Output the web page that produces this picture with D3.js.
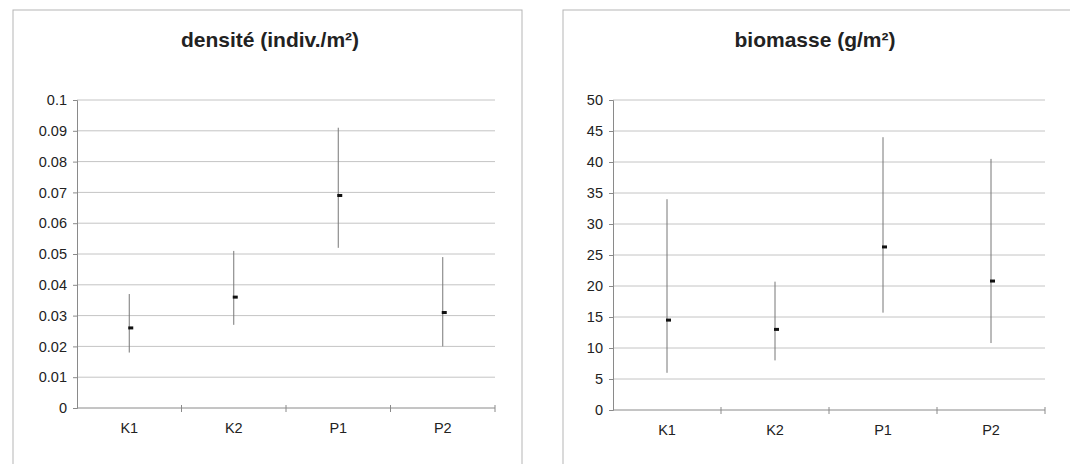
<!DOCTYPE html>
<html>
<head>
<meta charset="utf-8">
<script src="https://cdn.jsdelivr.net/npm/d3@7"></script>
<style>
  body { margin: 0; background: #fff; }
  svg { display: block; font-family: "Liberation Sans", Arial, sans-serif; }
  .grid line { stroke: #c4c4c4; stroke-width: 1; }
  .axis path, .axis line { stroke: #8a8a8a; }
  .axis text { fill: #222; font-size: 14.5px; }
</style>
</head>
<body>
<script>
// stations
var categories = ['K1', 'K2', 'P1', 'P2'];

// densite (indiv./m2)
var densMean = [0.026, 0.036, 0.069, 0.031];
var densLow  = [0.018, 0.027, 0.052, 0.020];
var densHigh = [0.037, 0.051, 0.091, 0.049];
var densTicks = [0, 0.01, 0.02, 0.03, 0.04, 0.05, 0.06, 0.07, 0.08, 0.09, 0.1];

// biomasse (g/m2)
var bioMean = [14.5, 13.0, 26.3, 20.8];
var bioLow  = [6.0, 8.0, 15.7, 10.8];
var bioHigh = [34.0, 20.7, 44.0, 40.5];
var bioTicks = [0, 5, 10, 15, 20, 25, 30, 35, 40, 45, 50];

var svg = d3.select('body').append('svg')
	.attr('width', 1070)
	.attr('height', 464);

function drawPanel(opt) {
	var g = svg.append('g');

	// cadre du graphique
	g.append('rect')
		.attr('x', opt.box[0]).attr('y', opt.box[1])
		.attr('width', opt.box[2]).attr('height', opt.box[3])
		.attr('fill', '#fff')
		.attr('stroke', '#b5b5b5');

	g.append('text')
		.attr('x', opt.titleX).attr('y', 47)
		.attr('text-anchor', 'middle')
		.style('font-size', '21px')
		.style('font-weight', 'bold')
		.attr('fill', '#222')
		.text(opt.title);

	var x = d3.scaleBand()
		.domain(categories)
		.range([opt.left, opt.right]);

	var y = d3.scaleLinear()
		.domain([0, d3.max(opt.ticks)])
		.range([opt.bottom, opt.top]);

	// lignes de grille
	g.append('g').attr('class', 'grid')
		.selectAll('line')
		.data(opt.ticks.slice(1))
		.enter().append('line')
		.attr('x1', opt.left).attr('x2', opt.right)
		.attr('y1', function(d) { return y(d); })
		.attr('y2', function(d) { return y(d); });

	g.append('g').attr('class', 'axis')
		.attr('transform', 'translate(' + opt.left + ',0)')
		.call(d3.axisLeft(y).tickValues(opt.ticks).tickSize(4).tickPadding(6)
			.tickFormat(opt.fmt));

	// axe x: graduations entre les categories
	var xAxis = g.append('g').attr('class', 'axis')
		.attr('transform', 'translate(0,' + opt.bottom + ')')
		.call(d3.axisBottom(x).tickSize(0).tickPadding(15));
	xAxis.select('.domain').remove();
	g.append('line')
		.attr('x1', opt.left).attr('x2', opt.right)
		.attr('y1', opt.bottom).attr('y2', opt.bottom)
		.attr('stroke', '#8a8a8a');
	g.selectAll('.xsep')
		.data(d3.range(1, categories.length + 1))
		.enter().append('line')
		.attr('x1', function(i) { return opt.left + i * x.bandwidth(); })
		.attr('x2', function(i) { return opt.left + i * x.bandwidth(); })
		.attr('y1', opt.bottom - 3).attr('y2', opt.bottom + 4)
		.attr('stroke', '#8a8a8a');

	var cx = function(i) { return x(categories[i]) + x.bandwidth() / 2; };

	// barres d'erreur
	g.selectAll('.err')
		.data(opt.mean)
		.enter().append('line')
		.attr('x1', function(d, i) { return cx(i); })
		.attr('x2', function(d, i) { return cx(i); })
		.attr('y1', function(d, i) { return y(opt.low[i]); })
		.attr('y2', function(d, i) { return y(opt.high[i]); })
		.attr('stroke', '#777')
		.attr('stroke-width', 1);

	// moyennes
	g.selectAll('.pt')
		.data(opt.mean)
		.enter().append('rect')
		.attr('x', function(d, i) { return cx(i) - 1; })
		.attr('y', function(d) { return y(d) - 1.5; })
		.attr('width', 5).attr('height', 3)
		.attr('fill', '#111');
}

drawPanel({
	box: [13, 10, 509, 470],
	title: 'densité (indiv./m²)',
	titleX: 270,
	left: 77, right: 495, top: 100, bottom: 408,
	ticks: densTicks,
	fmt: function(d) { return d === 0 ? '0' : String(+d.toFixed(2)); },
	mean: densMean, low: densLow, high: densHigh
});

drawPanel({
	box: [563, 10, 520, 470],
	title: 'biomasse (g/m²)',
	titleX: 815,
	left: 613, right: 1045, top: 100, bottom: 410,
	ticks: bioTicks,
	fmt: d3.format('d'),
	mean: bioMean, low: bioLow, high: bioHigh
});
</script>
</body>
</html>
